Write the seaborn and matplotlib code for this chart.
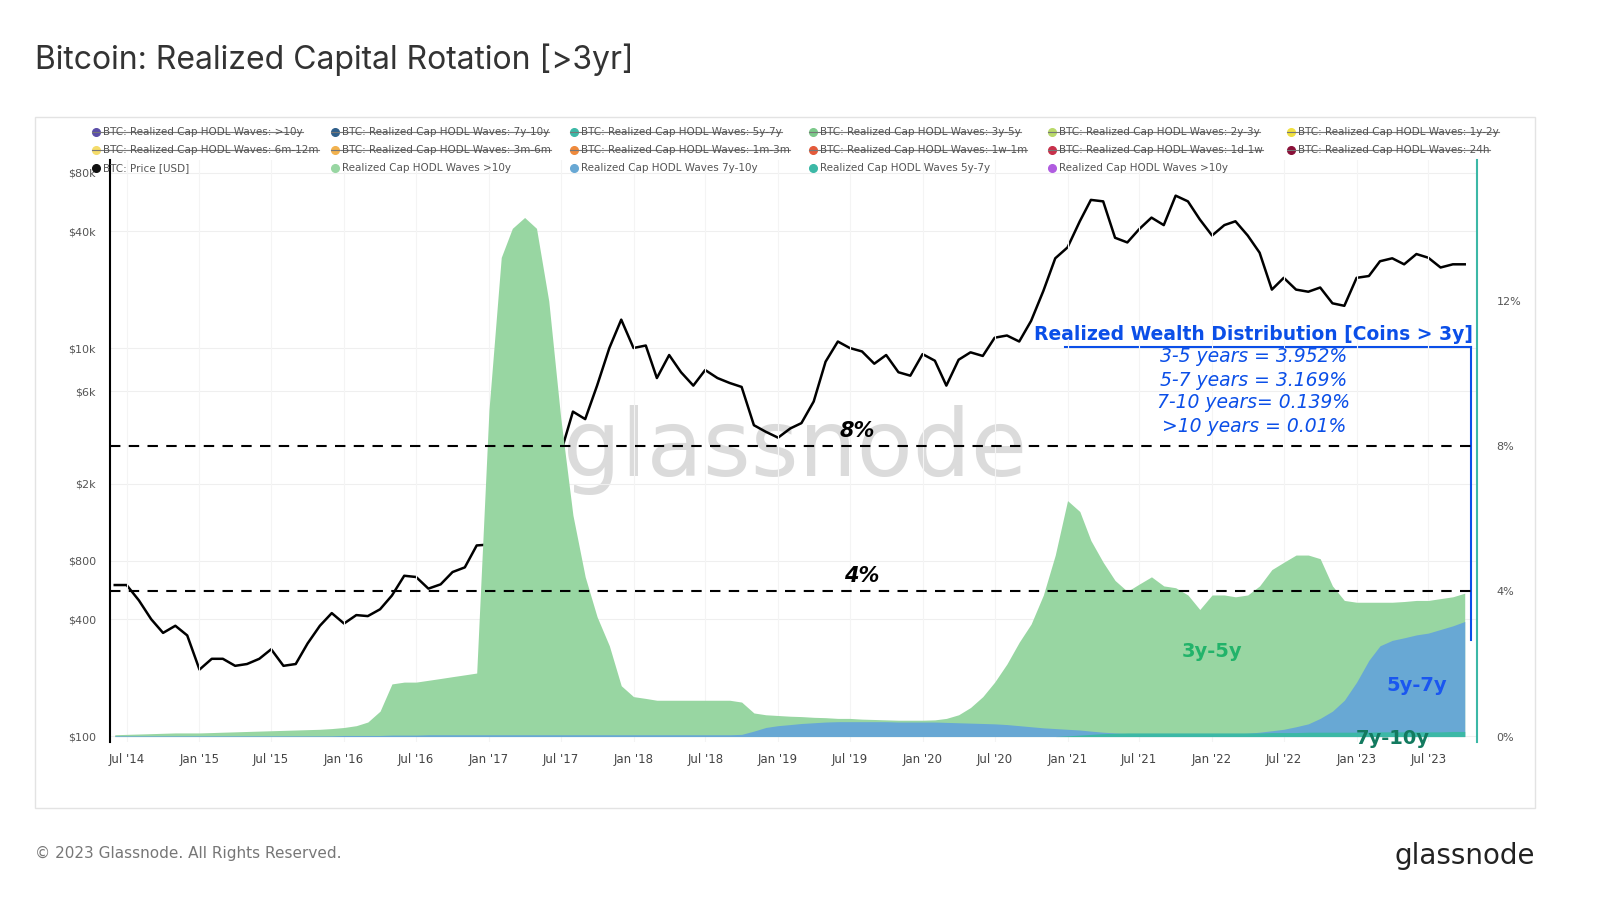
import numpy as np
import pandas as pd
import seaborn as sns
import matplotlib
matplotlib.use("Agg")
import matplotlib.pyplot as plt
from matplotlib.patches import Rectangle
from matplotlib.lines import Line2D

months = pd.date_range("2014-06-01", "2023-10-01", freq="MS")

price = [600, 600, 500, 400, 340, 370, 330,
         220, 250, 250, 230, 235, 250, 280, 230, 235, 300, 370, 430,
         380, 420, 415, 450, 530, 670, 660, 575, 605, 700, 740, 960,
         970, 1190, 1080, 1350, 2300, 2500, 2870, 4700, 4300, 6400, 10000, 14000,
         10000, 10300, 7000, 9200, 7500, 6400, 7700, 7000, 6600, 6300, 4000, 3700,
         3450, 3850, 4100, 5300, 8500, 10800, 10000, 9600, 8300, 9200, 7500, 7200,
         9300, 8600, 6400, 8700, 9500, 9100, 11300, 11600, 10800, 13800, 19700, 29000,
         33000, 45000, 58000, 57000, 37000, 35000, 41000, 47000, 43000, 61000, 57000, 46000,
         38000, 43000, 45000, 38000, 31000, 20000, 23000, 20000, 19500, 20500, 17000, 16500,
         23000, 23500, 28000, 29000, 27000, 30500, 29200, 26000, 27000, 27000]

w3_5 = [0.05, 0.06, 0.07, 0.08, 0.09, 0.1, 0.1,
        0.1, 0.11, 0.12, 0.13, 0.14, 0.15, 0.16, 0.17, 0.18, 0.19, 0.2, 0.22,
        0.25, 0.3, 0.4, 0.7, 1.45, 1.5, 1.5, 1.55, 1.6, 1.65, 1.7, 1.75,
        9.0, 13.2, 14.0, 14.3, 14.0, 12.0, 8.8, 6.1, 4.4, 3.3, 2.5, 1.4,
        1.1, 1.05, 1.0, 1.0, 1.0, 1.0, 1.0, 1.0, 1.0, 0.95, 0.65, 0.6,
        0.58, 0.56, 0.55, 0.53, 0.52, 0.5, 0.5, 0.48, 0.47, 0.46, 0.45, 0.45,
        0.45, 0.46, 0.5, 0.6, 0.8, 1.1, 1.5, 2.0, 2.6, 3.1, 3.9, 5.0,
        6.5, 6.2, 5.4, 4.8, 4.3, 4.0, 4.2, 4.4, 4.15, 4.1, 3.9, 3.5,
        3.9, 3.9, 3.85, 3.9, 4.15, 4.6, 4.8, 5.0, 5.0, 4.9, 4.15, 3.75,
        3.7, 3.7, 3.7, 3.7, 3.72, 3.75, 3.75, 3.8, 3.85, 3.95]

w5_7 = [0.02, 0.02, 0.02, 0.02, 0.02, 0.02, 0.02,
        0.02, 0.02, 0.02, 0.02, 0.02, 0.02, 0.02, 0.02, 0.02, 0.02, 0.02, 0.02,
        0.03, 0.03, 0.03, 0.03, 0.04, 0.04, 0.04, 0.05, 0.05, 0.05, 0.05, 0.05,
        0.05, 0.05, 0.05, 0.05, 0.05, 0.05, 0.05, 0.05, 0.05, 0.05, 0.05, 0.05,
        0.05, 0.05, 0.05, 0.05, 0.05, 0.05, 0.05, 0.05, 0.05, 0.06, 0.15, 0.25,
        0.3, 0.33, 0.36, 0.38, 0.4, 0.41, 0.41, 0.41, 0.41, 0.41, 0.4, 0.4,
        0.4, 0.4, 0.39, 0.38, 0.37, 0.36, 0.35, 0.33, 0.3, 0.27, 0.24, 0.22,
        0.2, 0.18, 0.15, 0.12, 0.1, 0.08, 0.07, 0.06, 0.06, 0.05, 0.05, 0.05,
        0.05, 0.06, 0.07, 0.09, 0.12, 0.16, 0.2, 0.27, 0.35, 0.5, 0.7, 1.0,
        1.5, 2.1, 2.5, 2.65, 2.72, 2.8, 2.85, 2.95, 3.05, 3.17]

w7_10 = [0.0] * 79 + [0.02, 0.04, 0.06, 0.08, 0.09, 0.1, 0.1, 0.1, 0.1, 0.1, 0.1, 0.1,
                      0.1, 0.1, 0.1, 0.1, 0.1, 0.11, 0.11, 0.11, 0.12, 0.12, 0.12, 0.12,
                      0.12, 0.12, 0.13, 0.13, 0.13, 0.13, 0.13, 0.13, 0.14, 0.14]

xtick_labels = ["Jul '14", "Jan '15", "Jul '15", "Jan '16", "Jul '16", "Jan '17", "Jul '17",
                "Jan '18", "Jul '18", "Jan '19", "Jul '19", "Jan '20", "Jul '20", "Jan '21",
                "Jul '21", "Jan '22", "Jul '22", "Jan '23", "Jul '23"]
price_ticks = [100, 400, 800, 2000, 6000, 10000, 40000, 80000]
price_tick_labels = ["$100", "$400", "$800", "$2k", "$6k", "$10k", "$40k", "$80k"]

df = pd.DataFrame({"date": months, "price": price, "w35": w3_5, "w57": w5_7, "w710": w7_10[:len(months)]})

W, H = 1600, 921
fig = plt.figure(figsize=(16, 9.21), dpi=100)
def fx(px): return px / W
def fy(py): return 1 - py / H

fig.patches.append(Rectangle((fx(35), fy(808)), fx(1535) - fx(35), fy(117) - fy(808),
                             transform=fig.transFigure, fill=False, ec="#e3e3e3", lw=1))
fig.text(fx(35), fy(60), "Bitcoin: Realized Capital Rotation [>3yr]", fontsize=23, color="#333333",
         va="center", family="Inter")
fig.text(fx(35), fy(853), "© 2023 Glassnode. All Rights Reserved.", fontsize=11, color="#777777", va="center")
fig.text(fx(1535), fy(856), "glassnode", fontsize=20, color="#222222", va="center", ha="right")

L, R, T, B = 110, 1477, 160, 742
ax = fig.add_axes([fx(L), fy(B), fx(R) - fx(L), fy(T) - fy(B)])
ax2 = ax.twinx()

x0 = pd.Timestamp("2014-05-20"); x1 = pd.Timestamp("2023-11-01")
ax.set_ylim(-0.15, (742 - 160) / 36.3 - 0.15)
ax.fill_between(df["date"], 0, df["w35"], color="#98d6a2", lw=0, zorder=3)
ax.fill_between(df["date"], 0, df["w57"], color="#68a8d4", lw=0, zorder=4)
ax.fill_between(df["date"], 0, df["w710"], color="#3cb8a6", lw=0, zorder=5)
ax.axhline(8, color="black", ls=(0, (5, 4)), lw=1.5, zorder=6)
ax.axhline(4, color="black", ls=(0, (5, 4)), lw=1.5, zorder=6)
ax.yaxis.tick_right()
ax.set_yticks([0, 4, 8, 12])
ax.set_yticklabels(["0%", "4%", "8%", "12%"])
ax.tick_params(axis="y", colors="#555555", labelsize=8, length=0, pad=14)
ax.set_xlim(x0, x1)
ax.set_xticks(pd.to_datetime(["%d-%02d-01" % (2014 + (i + 1) // 2, 7 if i % 2 == 0 else 1)
                              for i in range(len(xtick_labels))]))
ax.set_xticklabels(xtick_labels)
ax.tick_params(axis="x", labelsize=8.5, colors="#444444", length=0, pad=8)
ax.grid(axis="x", color="#f4f4f4", lw=0.8)
ax.set_zorder(2); ax.patch.set_visible(False)
ax2.set_zorder(1)
ax2.set_yscale("log")
lo = 10 ** (2 - (742 - 736) / 194); hi = 10 ** (2 + (736 - 160) / 194)
ax2.set_ylim(lo, hi)
sns.lineplot(data=df, x="date", y="price", ax=ax2, color="black", lw=1.8)
ax2.yaxis.tick_left()
ax2.set_yticks(price_ticks); ax2.set_yticklabels(price_tick_labels)
ax2.minorticks_off()
ax2.tick_params(axis="y", labelsize=8, colors="#555555", length=0, pad=10)
ax2.grid(axis="y", color="#efefef", lw=0.8)
ax2.set_ylabel(""); ax2.set_xlabel("")
ax2.set_xlim(x0, x1)
for a in (ax, ax2):
    for s in a.spines.values():
        s.set_visible(False)
fig.add_artist(Line2D([fx(L), fx(L)], [fy(B), fy(T)], color="black", lw=1.5))
fig.add_artist(Line2D([fx(R), fx(R)], [fy(B), fy(T)], color="#3cb8a6", lw=1.5))

fig.text(fx(795), fy(450), "glassnode", fontsize=66, color="#cccccc", alpha=0.7, ha="center", va="center", zorder=0)

ax.text(pd.Timestamp("2019-07-20"), 8.15, "8%", fontsize=15, style="italic", weight="bold", ha="center", va="bottom", zorder=7)
ax.text(pd.Timestamp("2019-08-01"), 4.15, "4%", fontsize=15, style="italic", weight="bold", ha="center", va="bottom", zorder=7)
ax.text(pd.Timestamp("2022-01-01"), 2.2, "3y-5y", fontsize=14, weight="bold", color="#22b36a", ha="center", zorder=7)
ax.text(pd.Timestamp("2023-06-01"), 1.25, "5y-7y", fontsize=14, weight="bold", color="#1a56f0", ha="center", zorder=7)
ax.text(pd.Timestamp("2023-04-01"), -0.05, "7y-10y", fontsize=14, weight="bold", color="#137a5f", ha="center", va="center", zorder=7)

blue = "#0b4fe8"
fig.text(fx(1253), fy(335), "Realized Wealth Distribution [Coins > 3y]", fontsize=13.5, weight="bold",
         color=blue, ha="center", va="center")
fig.add_artist(Line2D([fx(1065), fx(1471)], [fy(347), fy(347)], color=blue, lw=1.5))
fig.add_artist(Line2D([fx(1471), fx(1471)], [fy(347), fy(640)], color=blue, lw=1.5))
for i, t in enumerate(["3-5 years = 3.952%", "5-7 years = 3.169%", "7-10 years= 0.139%", ">10 years = 0.01%"]):
    fig.text(fx(1254), fy(357 + 23 * i), t, fontsize=13.5, style="italic", color=blue, ha="center", va="center")

rows = [
    [("BTC: Realized Cap HODL Waves: >10y", "#5b4ea8"), ("BTC: Realized Cap HODL Waves: 7y-10y", "#2f5f8a"),
     ("BTC: Realized Cap HODL Waves: 5y-7y", "#3cb8a6"), ("BTC: Realized Cap HODL Waves: 3y-5y", "#7cc98a"),
     ("BTC: Realized Cap HODL Waves: 2y-3y", "#b9d96a"), ("BTC: Realized Cap HODL Waves: 1y-2y", "#f0e040")],
    [("BTC: Realized Cap HODL Waves: 6m-12m", "#f5dc6a"), ("BTC: Realized Cap HODL Waves: 3m-6m", "#f2b24e"),
     ("BTC: Realized Cap HODL Waves: 1m-3m", "#ef8a3c"), ("BTC: Realized Cap HODL Waves: 1w-1m", "#e45a3a"),
     ("BTC: Realized Cap HODL Waves: 1d-1w", "#c8304a"), ("BTC: Realized Cap HODL Waves: 24h", "#8a1038")],
    [("BTC: Price [USD]", "#111111"), ("Realized Cap HODL Waves >10y", "#98d6a2"),
     ("Realized Cap HODL Waves 7y-10y", "#68a8d4"), ("Realized Cap HODL Waves 5y-7y", "#3cb8a6"),
     ("Realized Cap HODL Waves >10y", "#b05ce0")],
]
fig.canvas.draw()
rend = fig.canvas.get_renderer()
for r, row in enumerate(rows):
    yy = 132 + 18 * r
    for c, (lab, col) in enumerate(row):
        xx = 96 + 239 * c
        fig.add_artist(Line2D([fx(xx)], [fy(yy)], marker="o", ms=5.5, color=col, lw=0))
        t = fig.text(fx(xx + 7), fy(yy), lab, fontsize=7.5, color="#555555", va="center")
        if r < 2:
            bb = t.get_window_extent(rend)
            fig.add_artist(Line2D([fx(xx - 4), bb.x1 / W], [fy(yy), fy(yy)], color="#777777", lw=0.8))

fig.savefig("out.png", dpi=100)
